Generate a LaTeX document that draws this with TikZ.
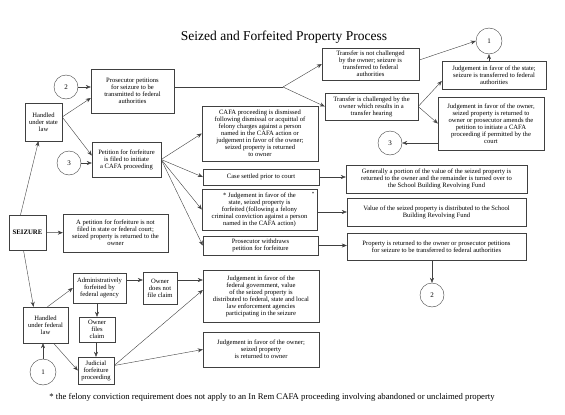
\documentclass[tikz,border=0pt]{standalone}
\usepackage{fontspec}
\setmainfont{Liberation Serif}
\usetikzlibrary{arrows.meta}

\begin{document}
\begin{tikzpicture}[x=1pt, y=-1pt,
      box/.style = {shape=rectangle, draw=black!75, align=center,
        inner sep=1pt, font=\fontsize{6.6}{7}\selectfont},
      ring/.style = {shape=circle, draw=black!75, minimum size=24pt,
        inner sep=0pt, font=\fontsize{7}{8}\selectfont},
      link/.style = {draw=black!75, -{Stealth[length=5pt,width=4pt]}}]
  \useasboundingbox (0,0) rectangle (565,415);
  \node[font=\fontsize{13.5}{16}\selectfont] (title) at (284,37)
    {Seized and Forfeited Property Process};
  \node[ring] (two) at (66,87) {2};
  \node[box, minimum width=83pt, minimum height=44pt] (petseize) at (132.5,91)
    {Prosecutor petitions\\for seizure to be\\transmitted to federal\\authorities};
  \node[box, minimum width=37pt, minimum height=38pt] (state) at (43.5,122)
    {Handled\\under state\\law};
  \node[ring] (three) at (69,163) {3};
  \node[box, minimum width=69pt, minimum height=35pt] (petition) at (126.5,159.5)
    {Petition for forfeiture\\is filed to initiate\\a CAFA proceeding};
  \node[box, minimum width=37pt, minimum height=35pt,
    font=\fontsize{6.8}{7}\selectfont\bfseries] (seizure) at (27.5,232.5) {SEIZURE};
  \node[box, minimum width=105pt, minimum height=38pt] (nopetition) at (115.5,233)
    {A petition for forfeiture is not\\filed in state or federal court;\\seized property is returned to the\\owner};
  \node[box, minimum width=116pt, minimum height=55pt] (dismissed) at (260,133.5)
    {CAFA proceeding is dismissed\\following dismissal or acquittal of\\felony charges against a person\\named in the CAFA action or\\judgement in favor of the owner;\\seized property is returned\\to owner};
  \node[box, minimum width=116pt, minimum height=16pt] (settled) at (261,177)
    {Case settled prior to court};
  \node[box, minimum width=115pt, minimum height=41pt] (forfeited) at (259.5,209.5)
    {* Judgement in favor of the\\state, seized property is\\forfeited (following a felony\\criminal conviction against a person\\named in the CAFA action)};
  \node[font=\fontsize{5}{5}\selectfont, inner sep=0pt] (star) at (313,194) {*};
  \node[box, minimum width=115pt, minimum height=19pt] (withdraws) at (260.5,245.5)
    {Prosecutor withdraws\\petition for forfeiture};
  \node[box, minimum width=97pt, minimum height=32pt] (notchallenged) at (370.5,64)
    {Transfer is not challenged\\by the owner; seizure is\\transferred to federal\\authorities};
  \node[ring, minimum size=26pt] (one) at (489,41) {1};
  \node[box, minimum width=104pt, minimum height=28pt] (statewins) at (494,75)
    {Judgement in favor of the state;\\seizure is transferred to federal\\authorities};
  \node[box, minimum width=93pt, minimum height=27pt] (challenged) at (371.5,106.5)
    {Transfer is challenged by the\\owner which results in a\\transfer hearing};
  \node[box, minimum width=106pt, minimum height=53pt] (ownerwins) at (491,123.5)
    {Judgement in favor of the owner,\\seized property is returned to\\owner or prosecutor amends the\\petition to initiate a CAFA\\proceeding if permitted by the\\court};
  \node[ring] (threeb) at (390,143) {3};
  \node[box, minimum width=181pt, minimum height=28pt] (portion) at (436.5,179)
    {Generally a portion of the value of the seized property is\\returned to the owner and the remainder is turned over to\\the School Building Revolving Fund};
  \node[box, minimum width=179pt, minimum height=28pt] (value) at (436.5,212)
    {Value of the seized property is distributed to the School\\Building Revolving Fund};
  \node[box, minimum width=179pt, minimum height=27pt] (returned) at (436.5,246.5)
    {Property is returned to the owner or prosecutor petitions\\for seizure to be transferred to federal authorities};
  \node[ring] (twob) at (432,295) {2};
  \node[box, minimum width=45pt, minimum height=36pt] (federal) at (45.5,325)
    {Handled\\under federal\\law};
  \node[ring, minimum size=26pt] (oneb) at (43,372) {1};
  \node[box, minimum width=53pt, minimum height=30pt] (admin) at (99.5,288)
    {Administratively\\forfeited by\\federal agency};
  \node[box, minimum width=34pt, minimum height=32pt] (noclaim) at (160,288)
    {Owner\\does not\\file claim};
  \node[box, minimum width=36pt, minimum height=25pt] (claim) at (97,329.5)
    {Owner\\files\\claim};
  \node[box, minimum width=36pt, minimum height=27pt] (judicial) at (96,370.5)
    {Judicial\\forfeiture\\proceeding};
  \node[box, minimum width=116pt, minimum height=52pt] (fedwins) at (261,296)
    {Judgement in favor of the\\federal government, value\\of the seized property is\\distributed to federal, state and local\\law enforcement agencies\\participating in the seizure};
  \node[box, minimum width=116pt, minimum height=35pt] (ownerkeeps) at (261,349.5)
    {Judgement in favor of the owner;\\seized property\\is returned to owner};
  \node[font=\fontsize{8.7}{10}\selectfont] (note) at (272,397)
    {* the felony conviction requirement does not apply to an In Rem CAFA proceeding involving abandoned or unclaimed property};

  \coordinate (fork) at (283,87);
  \draw[draw=black!75] (fork -| petseize.east) -- (fork);
  \draw[link] (fork) -- (notchallenged.west);
  \draw[link] (fork) -- (challenged.west);
  \draw[link] (two) -- (two -| petseize.west);
  \draw[link] ([yshift=5pt]state.east) -- ([yshift=-7pt]petseize.west);
  \draw[link] ([yshift=5pt]state.east) -- ([yshift=4pt]petition.west);
  \draw[link] (three) -- (three -| petition.west);
  \draw[link] ([xshift=-7pt]seizure.north) -- ([xshift=-5pt]state.south);
  \draw[link] (seizure) -- (nopetition);
  \draw[link] ([xshift=-4pt]seizure.south) -- ([xshift=-12pt]federal.north);
  \draw[link] (petition.east) -- (dismissed.west);
  \draw[link] (petition.east) -- (settled.west);
  \draw[link] (petition.east) -- (forfeited.west);
  \draw[link] (petition.east) -- (withdraws.west);
  \draw[link] ([yshift=4pt]notchallenged.east) -- (one.west);
  \draw[link] (challenged.east) -- ([yshift=-6pt]statewins.west);
  \draw[link] (challenged.east) -- (ownerwins.west);
  \draw[link] (one |- statewins.north) -- (one.south);
  \draw[link] (threeb -| ownerwins.west) -- (threeb);
  \draw[link] (settled.east) -- (settled.east -| portion.west);
  \draw[link] (forfeited.east |- value) -- (value.west);
  \draw[link] (withdraws.east) -- (withdraws.east -| returned.west);
  \draw[link] (twob |- returned.south) -- (twob);
  \draw[link] ([xshift=2pt]federal.north) -- (admin.west);
  \draw[link] ([xshift=8pt]federal.south) -- (judicial.west);
  \draw[link] (oneb) -- (oneb |- federal.south);
  \draw[link] ([yshift=8pt]admin.east) -- ([yshift=8pt]admin.east -| noclaim.west);
  \draw[link] (admin.south -| claim) -- (claim.north);
  \draw[link] (claim.south -| judicial) -- (judicial.north);
  \draw[link] ([yshift=8pt]noclaim.east) -- ([yshift=8pt]noclaim.east -| fedwins.west);
  \draw[link] ([yshift=5pt]judicial.east) -- ([yshift=6pt]fedwins.west);
  \draw[link] ([yshift=5pt]judicial.east) -- (ownerkeeps.west);
\end{tikzpicture}
\end{document}
